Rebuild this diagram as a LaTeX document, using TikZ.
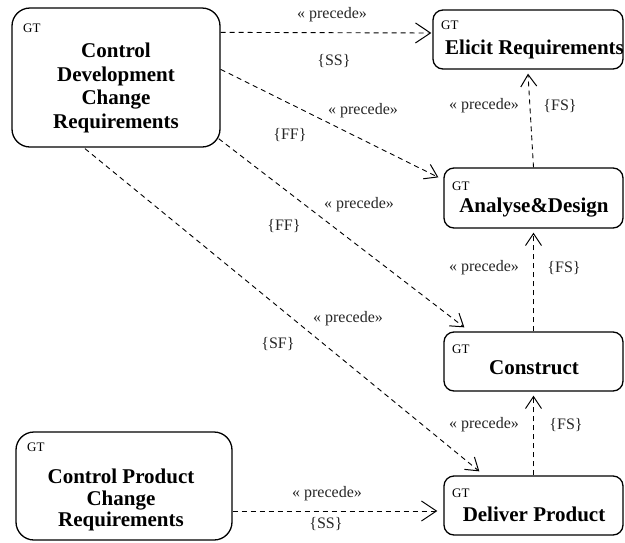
\documentclass[tikz,border=0pt]{standalone}
\usepackage{fontspec}
\setmainfont{Liberation Serif}
\usetikzlibrary{arrows.meta,calc}
\begin{document}
\begin{tikzpicture}[x=1pt,y=-1pt,
  box/.style={draw,line width=1.3pt,inner sep=0pt},
  gt/.style={font=\fontsize{13}{15}\selectfont,inner sep=0pt,anchor=base west},
  title/.style={font=\fontsize{21}{23.5}\selectfont\bfseries,inner sep=0pt,align=center},
  lbl/.style={font=\fontsize{16}{18}\selectfont,inner sep=0pt,text=black!85},
  dep/.style={line width=0.9pt,dash pattern=on 5pt off 4pt,
    -{Straight Barb[length=12pt,width=16pt,line width=1pt]}},
  wide/.style={-{Straight Barb[length=15pt,width=20pt,line width=1pt]}},
]
\useasboundingbox (0,0) rectangle (625,542);

% task boxes
\node[box,rounded corners=18pt,minimum width=208pt,minimum height=139pt] (A) at (116,77.5) {};
\node[box,rounded corners=10pt,minimum width=190pt,minimum height=59pt] (E) at (528,39.5) {};
\node[box,rounded corners=10pt,minimum width=179pt,minimum height=60pt] (AD) at (533.5,198) {};
\node[box,rounded corners=10pt,minimum width=179pt,minimum height=59pt] (C) at (533.5,361.5) {};
\node[box,rounded corners=10pt,minimum width=179pt,minimum height=59pt] (D) at (533.5,505.5) {};
\node[box,rounded corners=18pt,minimum width=216pt,minimum height=108pt] (P) at (124,486) {};

% stereotype tags
\node[gt] (Agt) at (23,32) {GT};
\node[gt] (Egt) at (441,29) {GT};
\node[gt] (ADgt) at (452,190) {GT};
\node[gt] (Cgt) at (452,353) {GT};
\node[gt] (Dgt) at (452,497) {GT};
\node[gt] (Pgt) at (27,451) {GT};

% task names
\node[title,anchor=north] (At) at (116,43) {Control\\Development\\Change\\Requirements};
\node[title,anchor=base] (Et) at (534.5,54) {Elicit Requirements};
\node[title,anchor=base] (ADt) at (534,212) {Analyse\&Design};
\node[title,anchor=base] (Ct) at (534,374) {Construct};
\node[title,anchor=base] (Dt) at (534,521) {Deliver Product};
\node[title,anchor=north,font=\fontsize{21}{21.5}\selectfont\bfseries] (Pt) at (121,469) {Control Product\\Change\\Requirements};

% dependencies
\draw[dep,wide] ($(A.north east)+(0,25)$) -- ($(E.west |- 0,33)+(-1,0)$);
\draw[dep] ($(A.north east)+(0,62)$) -- ($(AD.north west)+(-5,10)$);
\draw[dep] ($(A.south east)+(-2,-9)$) -- ($(C.north west)+(21,-4)$);
\draw[dep] ($(A.south)+(-31,1)$) -- ($(D.north west)+(36,-4)$);
\draw[dep,wide] (P.east |- 0,511) -- ($(D.west |- 0,511)+(-6,0)$);
\draw[dep] (AD.north) -- ($(E.south)+(0,4)$);
\draw[dep] (C.north) -- ($(AD.south)+(0,4)$);
\draw[dep] (D.north) -- ($(C.south)+(0,4)$);

% dependency labels
\node[lbl] (l1a) at (332,15) {« precede»};
\node[lbl] (l1b) at (334,61) {\{SS\}};
\node[lbl] (l2a) at (363,111) {« precede»};
\node[lbl] (l2b) at (290,135) {\{FF\}};
\node[lbl] (l3a) at (359,205) {« precede»};
\node[lbl] (l3b) at (284,226) {\{FF\}};
\node[lbl] (l4a) at (348,319) {« precede»};
\node[lbl] (l4b) at (278,344) {\{SF\}};
\node[lbl] (l5a) at (327,494) {« precede»};
\node[lbl] (l5b) at (326,524) {\{SS\}};
\node[lbl] (l6a) at (484,106) {« precede»};
\node[lbl] (l6b) at (560,106) {\{FS\}};
\node[lbl] (l7a) at (484,268) {« precede»};
\node[lbl] (l7b) at (564,268) {\{FS\}};
\node[lbl] (l8a) at (484,425) {« precede»};
\node[lbl] (l8b) at (566,425) {\{FS\}};
\end{tikzpicture}
\end{document}
